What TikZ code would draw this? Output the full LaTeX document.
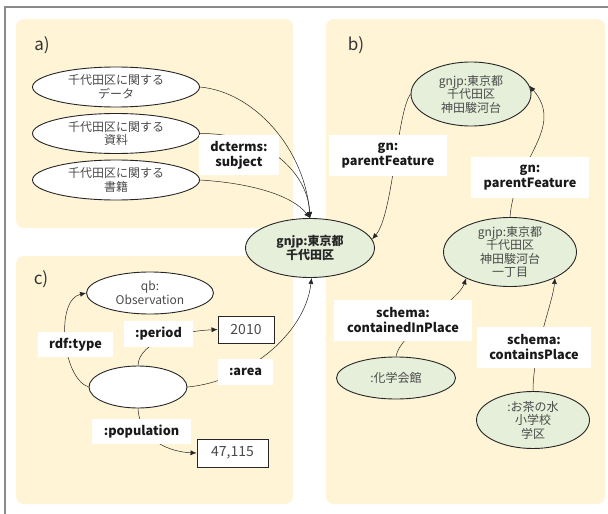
\documentclass[tikz,border=0pt]{standalone}
\usepackage{fontspec}
\setmainfont{Noto Sans CJK JP}
\usetikzlibrary{shapes.geometric,arrows.meta}
\definecolor{panelbg}{HTML}{FFF4D6}
\definecolor{nodegreen}{HTML}{E6EFDA}
\definecolor{txtgray}{HTML}{4A4A4A}
\definecolor{framegray}{HTML}{8A8A8A}
\tikzset{
  ell/.style={ellipse, draw=black!85, line width=0.9pt, inner sep=0pt, align=center,
    text=txtgray, font=\fontsize{12}{13.5}\selectfont, fill=white},
  gell/.style={ell, fill=nodegreen},
  lbl/.style={fill=white, draw=none, inner sep=0pt, align=center, text=black!90,
    font=\bfseries\fontsize{12.7}{15}\selectfont},
  valbox/.style={draw=black!85, line width=0.9pt, fill=white, inner sep=0pt,
    text=txtgray, font=\fontsize{14}{16}\selectfont},
  arr/.style={-{Latex[length=6pt,width=5pt]}, line width=0.5pt, draw=black!85},
  plabel/.style={font=\fontsize{17}{19}\selectfont, text=black!80, inner sep=0pt}
}
\begin{document}
\begin{tikzpicture}[x=1pt,y=-1pt]
\useasboundingbox (0,0) rectangle (608,514);
\fill[white] (0,0) rectangle (608,514);
% outer frame
\draw[framegray, line width=1.2pt] (608,7) -- (5,7) -- (5,514);
% panels
\fill[panelbg, rounded corners=8pt] (16,19) rectangle (293,228);
\fill[panelbg, rounded corners=8pt] (16,256) rectangle (293,504);
\fill[panelbg, rounded corners=8pt] (326,19) rectangle (605,504);
\node[plabel] (la) at (42,45) {a)};
\node[plabel] (lb) at (356,45) {b)};
\node[plabel] (lc) at (41,279) {c)};

% central node
\node[gell, minimum width=129pt, minimum height=59pt, text=black!85,
  font=\bfseries\fontsize{12}{14.5}\selectfont] (c) at (310,248) {gnjp:東京都\\千代田区};

% panel a
\node[ell, minimum width=167pt, minimum height=40pt] (a1) at (116,87) {千代田区に関する\\データ};
\node[ell, minimum width=167pt, minimum height=40pt] (a2) at (116,133.5) {千代田区に関する\\資料};
\node[ell, minimum width=167pt, minimum height=40pt] (a3) at (116,180) {千代田区に関する\\書籍};
\draw[arr] (a1.east) .. controls (255,92) and (305,150) .. (c.north);
\draw[arr] (a2.east) .. controls (270,133) and (308,175) .. (c.north);
\draw[arr] (a3.east) .. controls (250,183) and (292,195) .. (c.north);
\node[lbl, minimum width=80pt, minimum height=40pt] (ldc) at (239,155) {dcterms:\\subject};

% panel b
\node[gell, minimum width=120pt, minimum height=64pt, inner ysep=-2pt] (t) at (471,94) {gnjp:東京都\\千代田区\\神田駿河台};
\node[gell, minimum width=133pt, minimum height=69pt, inner ysep=-6pt] (m) at (510,252) {gnjp:東京都\\千代田区\\神田駿河台\\一丁目};
\node[gell, minimum width=119pt, minimum height=42pt] (k) at (396,378) {:化学会館};
\node[gell, minimum width=113pt, minimum height=57pt, inner ysep=-2pt] (o) at (533,420) {:お茶の水\\小学校\\学区};
\draw[arr] (t.west) .. controls (397,112) and (393,215) .. (c.8);
\draw[arr] (m.north) .. controls (514,160) and (566,128) .. (t.8);
\draw[arr] (k.north) .. controls (400,332) and (458,302) .. (m.-149);
\draw[arr] (o.north) .. controls (533,350) and (553,302) .. (m.-30);
\node[lbl, minimum width=118pt, minimum height=41pt] (lg1) at (388,155.5) {gn:\\parentFeature};
\node[lbl, minimum width=118pt, minimum height=41pt] (lg2) at (530,177.5) {gn:\\parentFeature};
\node[lbl, minimum width=138pt, minimum height=41pt] (lsc) at (403,320.5) {schema:\\containedInPlace};
\node[lbl, minimum width=114pt, minimum height=41pt] (lsp) at (534,347.5) {schema:\\containsPlace};

% panel c
\node[ell, minimum width=127pt, minimum height=42pt] (q) at (150,293) {qb:\\Observation};
\node[ell, minimum width=98pt, minimum height=42pt] (e) at (138,387) {};
\node[valbox, minimum width=56pt, minimum height=27pt] (y) at (246,329.5) {2010};
\node[valbox, minimum width=71pt, minimum height=28pt] (p) at (232.5,453) {47,115};
\draw[arr] (e.west) .. controls (62,378) and (55,300) .. (q.west);
\draw[arr] (e.north) .. controls (139,340) and (185,331) .. (y.west);
\draw[arr] (e.east) .. controls (245,382) and (305,335) .. (c.-87);
\draw[arr] (e.south) .. controls (140,442) and (172,452) .. (p.west);
\node[lbl, minimum width=75pt, minimum height=25pt] (lrt) at (75.5,344.5) {rdf:type};
\node[lbl, minimum width=69pt, minimum height=26pt] (lpe) at (158.5,334) {:period};
\node[lbl, minimum width=55pt, minimum height=26pt] (lar) at (245.5,372) {:area};
\node[lbl, minimum width=99pt, minimum height=25pt] (lpo) at (141.5,431.5) {:population};
\end{tikzpicture}
\end{document}
